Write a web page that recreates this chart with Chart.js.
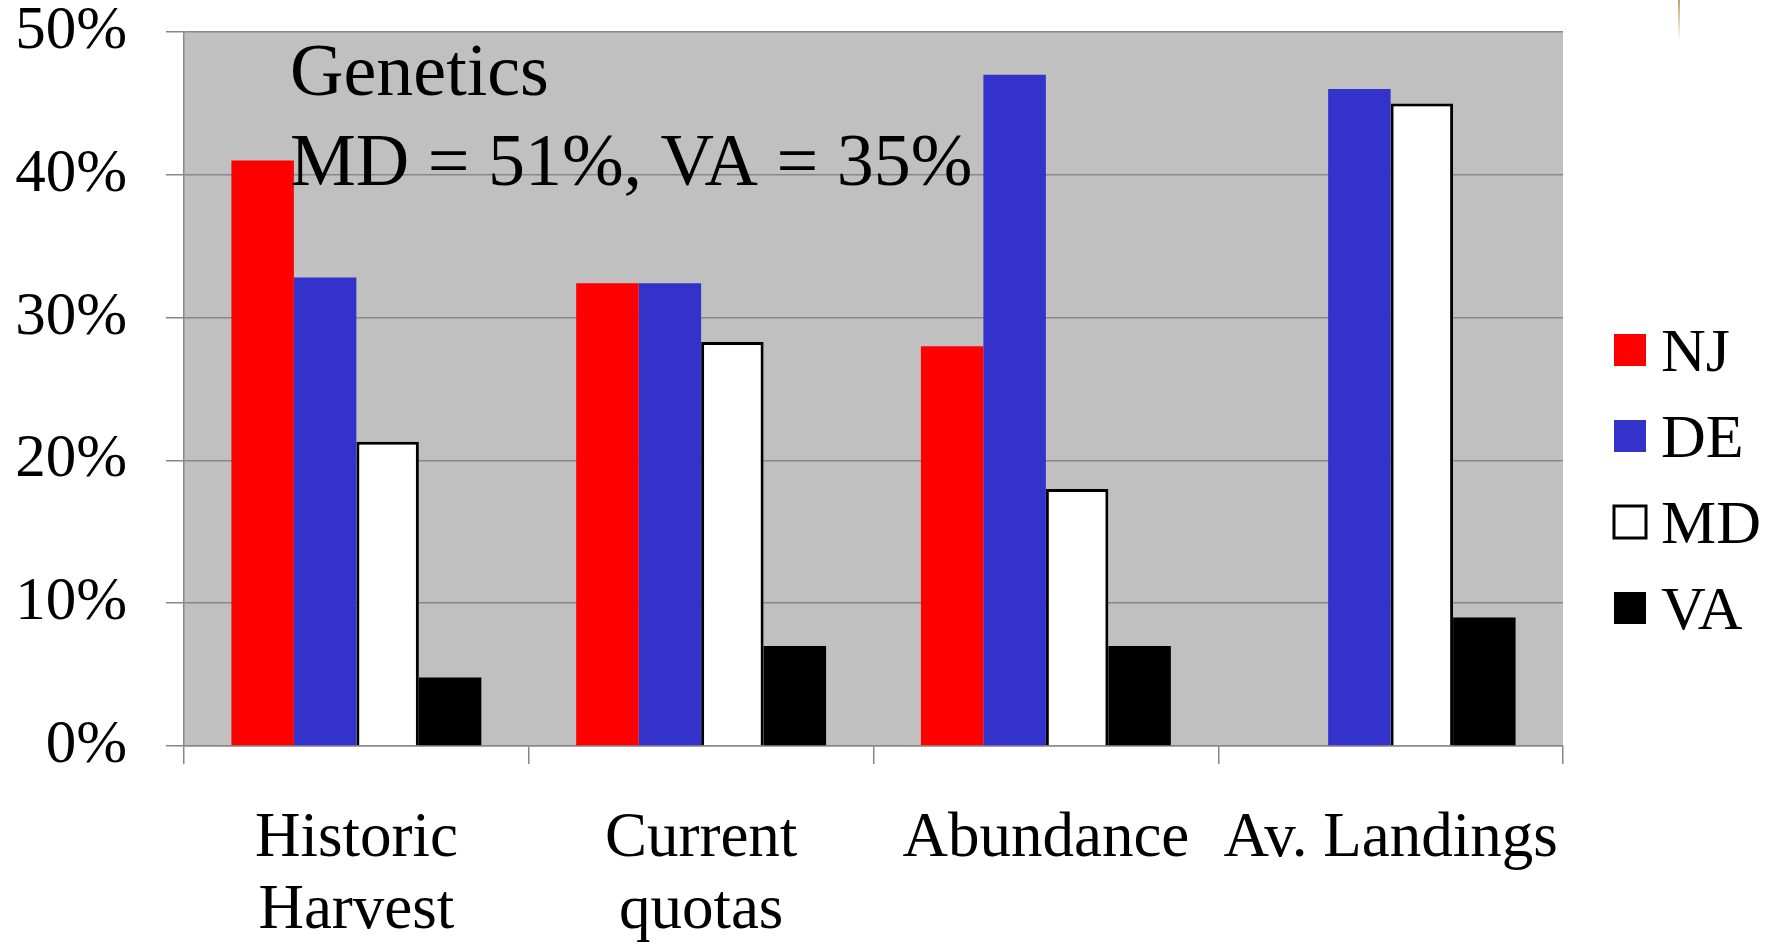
<!DOCTYPE html>
<html>
<head>
<meta charset="utf-8">
<script src="https://cdn.jsdelivr.net/npm/chart.js@4.4.1/dist/chart.umd.min.js"></script>
<style>
  html, body { margin: 0; padding: 0; background: #ffffff; }
  canvas { display: block; }
</style>
</head>
<body>
<canvas id="chart" width="1781" height="948"></canvas>
<script>
// Share of each state by allocation criterion (percent)
const categories = [['Historic', 'Harvest'], ['Current', 'quotas'], 'Abundance', 'Av. Landings'];
const seriesNames = ['NJ', 'DE', 'MD', 'VA'];
const njValues = [41.0, 32.4, 28.0, null];
const deValues = [32.8, 32.4, 47.0, 46.0];
const mdValues = [21.3, 28.3, 18.0, 45.0];
const vaValues = [4.8, 7.0, 7.0, 9.0];
const yTicks = [0, 10, 20, 30, 40, 50];
const noteLines = ['Genetics', 'MD = 51%, VA = 35%'];

const SERIF = '"Liberation Serif", "Times New Roman", serif';
const GRID = '#878787';

// Silver plot background behind grid and bars
const plotBackground = {
  id: 'plotBackground',
  beforeDraw(chart) {
    const { ctx, chartArea: a } = chart;
    ctx.save();
    ctx.fillStyle = '#C0C0C0';
    ctx.fillRect(a.left, a.top, a.right - a.left, a.bottom - a.top);
    ctx.restore();
  }
};

// Two-line note written over the plot
const noteText = {
  id: 'noteText',
  afterDatasetsDraw(chart) {
    const ctx = chart.ctx;
    ctx.save();
    ctx.fillStyle = '#000000';
    ctx.font = '74px ' + SERIF;
    ctx.textBaseline = 'alphabetic';
    ctx.textAlign = 'left';
    noteLines.forEach((line, i) => ctx.fillText(line, 290, 95 + i * 90));
    ctx.restore();
  }
};

// Legend column to the right of the plot
const sideLegend = {
  id: 'sideLegend',
  afterDraw(chart) {
    const ctx = chart.ctx;
    const boxX = chart.chartArea.right + 51;
    ctx.save();
    chart.data.datasets.forEach((ds, i) => {
      const cy = 350 + i * 86;
      ctx.fillStyle = ds.backgroundColor;
      ctx.fillRect(boxX, cy - 16, 32, 32);
      if (ds.borderWidth) {
        ctx.lineWidth = 3;
        ctx.strokeStyle = ds.borderColor;
        ctx.strokeRect(boxX, cy - 16, 32, 32);
      }
      ctx.fillStyle = '#000000';
      ctx.font = '62px ' + SERIF;
      ctx.textBaseline = 'alphabetic';
      ctx.textAlign = 'left';
      ctx.fillText(ds.label, boxX + 47, cy + 21);
    });
    // thin golden stroke at the top right corner
    const g = ctx.createLinearGradient(0, 0, 0, 42);
    g.addColorStop(0, 'rgba(170, 120, 40, 0.95)');
    g.addColorStop(1, 'rgba(170, 140, 80, 0)');
    ctx.strokeStyle = g;
    ctx.lineWidth = 1.5;
    ctx.beginPath();
    ctx.moveTo(1679, 0);
    ctx.lineTo(1679, 42);
    ctx.stroke();
    ctx.restore();
  }
};

new Chart(document.getElementById('chart'), {
  type: 'bar',
  data: {
    labels: categories,
    datasets: [
      { label: seriesNames[0], data: njValues, backgroundColor: '#FF0000', borderWidth: 0 },
      { label: seriesNames[1], data: deValues, backgroundColor: '#3333CC', borderWidth: 0 },
      { label: seriesNames[2], data: mdValues, backgroundColor: '#FFFFFF', borderColor: '#000000', borderWidth: 3 },
      { label: seriesNames[3], data: vaValues, backgroundColor: '#000000', borderWidth: 0 }
    ]
  },
  options: {
    responsive: false,
    devicePixelRatio: 1,
    animation: false,
    layout: { padding: { left: 15, top: 32, right: 218, bottom: 0 } },
    datasets: { bar: { categoryPercentage: 0.725, barPercentage: 1.0 } },
    plugins: {
      legend: { display: false },
      tooltip: { enabled: false }
    },
    scales: {
      x: {
        offset: true,
        grid: { display: true, offset: true, drawOnChartArea: false, drawTicks: true, tickLength: 18, color: GRID, lineWidth: 1.5 },
        border: { display: true, color: GRID, width: 1.5 },
        ticks: {
          color: '#000000',
          padding: 39,
          maxRotation: 0,
          autoSkip: false,
          font: { family: SERIF, size: 63, lineHeight: 1.143 }
        },
        afterFit(scale) { scale.height = 202; }
      },
      y: {
        min: 0,
        max: 50,
        afterBuildTicks(scale) { scale.ticks = yTicks.map(v => ({ value: v })); },
        grid: { color: GRID, lineWidth: 1.5, drawTicks: true, tickLength: 18 },
        border: { display: true, color: GRID, width: 1.5 },
        ticks: {
          color: '#000000',
          padding: 39,
          font: { family: SERIF, size: 61, lineHeight: 1.0 },
          callback: v => v + '%'
        },
        afterFit(scale) {
          scale.width = 169;
          scale.paddingTop = 0;
          scale.paddingBottom = 0;
        }
      }
    }
  },
  plugins: [plotBackground, noteText, sideLegend]
});
</script>
</body>
</html>
